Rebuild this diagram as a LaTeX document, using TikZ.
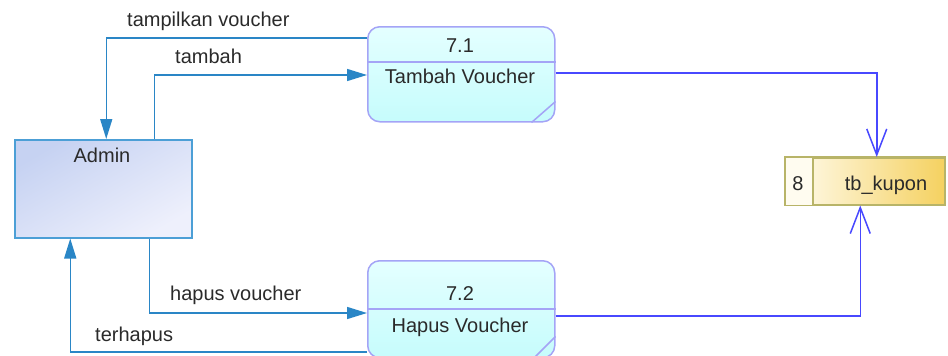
\documentclass[tikz,border=0pt]{standalone}
\usepackage{fontspec}
\setmainfont{Liberation Sans}
\usetikzlibrary{arrows.meta,calc}
\definecolor{flowA}{HTML}{2A86C6}
\definecolor{flowB}{HTML}{4848FF}
\definecolor{procB}{HTML}{A4A4F6}
\definecolor{admB}{HTML}{4C9FD6}
\definecolor{tbB}{HTML}{B8B468}
\definecolor{txt}{HTML}{2A2A2A}
\definecolor{admintop}{HTML}{C6D2F2}
\definecolor{adminbot}{HTML}{EEF0FC}
\definecolor{proctop}{HTML}{E4FFFF}
\definecolor{procbot}{HTML}{C6FCFC}
\definecolor{tbleft}{HTML}{FFFCF0}
\definecolor{tbright}{HTML}{F5D160}
\tikzset{
  lbl/.style={font=\fontsize{20}{23}\selectfont, text=txt, inner sep=0pt},
  adminbox/.style={draw=admB, line width=1.5pt, top color=admintop, bottom color=adminbot, shading angle=30, anchor=north west, inner sep=0pt},
  procbox/.style={draw=procB, line width=1.5pt, rounded corners=12pt, top color=proctop, bottom color=procbot, anchor=north west, inner sep=0pt, minimum width=187pt},
  tbbox/.style={draw=tbB, line width=1.5pt, left color=tbleft, right color=tbright, anchor=north west, inner sep=0pt, minimum width=159pt, minimum height=47pt},
  flowa/.style={draw=flowA, line width=1.5pt, -{Triangle[length=20pt,width=12pt]}},
  flowb/.style={draw=flowB, line width=1.5pt, -{Straight Barb[length=26pt,width=20pt,line width=1.5pt]}},
  divline/.style={draw=procB, line width=1.5pt},
}
\begin{document}
\begin{tikzpicture}[x=1pt,y=-1pt]
\useasboundingbox (0,0) rectangle (948,356);
% nodes
\node[adminbox, minimum width=177pt, minimum height=98pt] (admin) at (14,139) {};
\node[lbl, anchor=base] (admint) at (102,162) {Admin};
\node[procbox, minimum height=95pt] (p1) at (367,26) {};
\node[procbox, minimum height=97pt] (p2) at (367,260) {};
\node[tbbox] (tb) at (785,157) {};
% process details
\draw[divline] ([yshift=-36pt]p1.north west) -- ([yshift=-36pt]p1.north east);
\draw[divline] ([yshift=21pt]p1.south east) -- ([xshift=-24pt]p1.south east);
\draw[divline] ([yshift=-49pt]p2.north west) -- ([yshift=-49pt]p2.north east);
\draw[divline] ([yshift=22pt]p2.south east) -- ([xshift=-22pt]p2.south east);
\node[lbl, anchor=base] (p1n) at (460,52) {7.1};
\node[lbl, anchor=base] (p1t) at (460,83) {Tambah Voucher};
\node[lbl, anchor=base] (p2n) at (460,300) {7.2};
\node[lbl, anchor=base] (p2t) at (460,332) {Hapus Voucher};
% store details
\fill[tbleft] ([xshift=1pt,yshift=-1pt]tb.north west) rectangle ([xshift=28pt,yshift=1pt]tb.south west);
\draw[draw=tbB, line width=1.5pt] ([xshift=28pt]tb.north west) -- ([xshift=28pt]tb.south west);
\draw[draw=tbB, line width=1.5pt] (tb.north west) rectangle (tb.south east);
\node[lbl, anchor=base] (tbn) at (798,190) {8};
\node[lbl, anchor=base] (tbt) at (886,190) {tb\_kupon};
% connectors
\draw[flowa] ([yshift=-12pt]p1.north west) -| ([xshift=3pt]admin.north);
\draw[flowa] ([xshift=51pt]admin.north) |- ([yshift=-49pt]p1.north west);
\draw[flowa] ([xshift=46pt]admin.south) |- ([yshift=-53pt]p2.north west);
\draw[flowa] ([yshift=-92pt]p2.north west) -| ([xshift=-33pt]admin.south);
\draw[flowb] ([yshift=-47pt]p1.north east) -| ([xshift=11.5pt]tb.north);
\draw[flowb] ([yshift=-56pt]p2.north east) -| ([xshift=-5pt]tb.south);
% labels
\node[lbl, anchor=base west] (l1) at (127,26) {tampilkan voucher};
\node[lbl, anchor=base west] (l2) at (175,63) {tambah};
\node[lbl, anchor=base west] (l3) at (170,300) {hapus voucher};
\node[lbl, anchor=base west] (l4) at (95,341) {terhapus};
\end{tikzpicture}
\end{document}
